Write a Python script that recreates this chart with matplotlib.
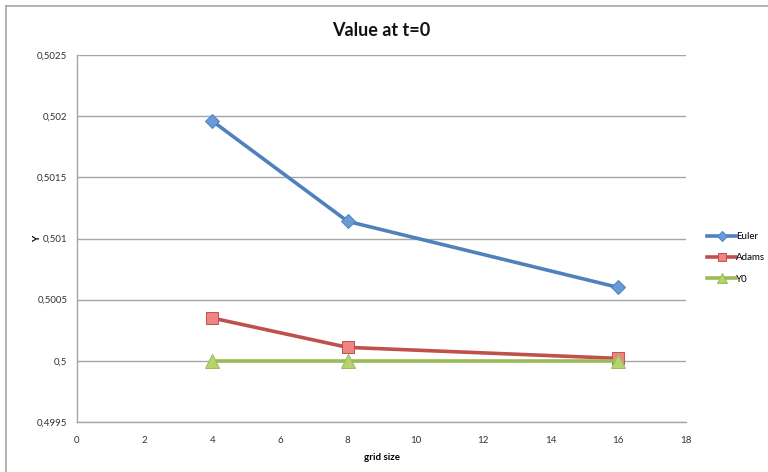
import matplotlib
matplotlib.use("Agg")
import matplotlib.pyplot as plt
from matplotlib.ticker import FuncFormatter, MultipleLocator
from matplotlib.lines import Line2D

grid_size = [4, 8, 16]
euler = [0.50196, 0.50114, 0.50060]
adams = [0.50035, 0.50011, 0.50002]
y0 = [0.5, 0.5, 0.5]

plt.rcParams['font.family'] = ['Lato', 'DejaVu Sans']

fig = plt.figure(figsize=(7.68, 4.72), dpi=100)
ax = fig.add_axes([77/768, 1-422/472, (686-77)/768, (422-55)/472])

# chart-area frame (top and left edges visible)
fig.add_artist(Line2D([6/768, 1], [1-6/472, 1-6/472], color='#a6a6a6', lw=1.2, transform=fig.transFigure))
fig.add_artist(Line2D([6/768, 6/768], [0, 1-6/472], color='#a6a6a6', lw=1.2, transform=fig.transFigure))

series = [
    ("Euler", euler, '#4f81bd', '#6a9ad6', 'D', 7.5),
    ("Adams", adams, '#c0504d', '#f08482', 's', 8.5),
    ("Y0", y0, '#9bbb59', '#b4d46e', '^', 9.5),
]
for name, vals, lc, mc, mk, ms in series:
    ax.plot(grid_size, vals, color=lc, lw=2.6, marker=mk, markersize=ms,
            markerfacecolor=mc, markeredgecolor=lc, markeredgewidth=0.7,
            label=name, zorder=3)

ax.set_xlim(0, 18)
ax.set_ylim(0.4995, 0.5025)
ax.xaxis.set_major_locator(MultipleLocator(2))
ax.yaxis.set_major_locator(MultipleLocator(0.0005))

def comma_fmt(v, pos):
    s = f"{v:.4f}".rstrip('0').rstrip('.')
    return s.replace('.', ',')

ax.yaxis.set_major_formatter(FuncFormatter(comma_fmt))
ax.xaxis.set_major_formatter(FuncFormatter(lambda v, p: f"{int(round(v))}"))

ax.grid(axis='y', color='#a6a6a6', lw=1.0)
ax.set_axisbelow(True)
for s in ['top', 'right']:
    ax.spines[s].set_visible(False)
for s in ['left', 'bottom']:
    ax.spines[s].set_color('#a6a6a6')
    ax.spines[s].set_linewidth(1.0)
ax.tick_params(length=0, labelsize=7, colors='#333333', pad=10)
ax.tick_params(axis='y', pad=7)

ax.set_title("Value at t=0", fontsize=13, fontweight='bold', pad=14, color='#111111')
ax.set_xlabel("grid size", fontsize=7, fontweight='bold')
ax.xaxis.set_label_coords(0.5, -0.085)
ax.set_ylabel("Y", fontsize=7, fontweight='bold', rotation=90)
ax.yaxis.set_label_coords(-0.058, 0.5)

leg = ax.legend(loc='center left', bbox_to_anchor=(1.02, 0.447), frameon=False,
                fontsize=7, handlelength=3, handletextpad=0.0, labelspacing=1.25,
                markerscale=0.7)

fig.savefig("out.png", dpi=100)
